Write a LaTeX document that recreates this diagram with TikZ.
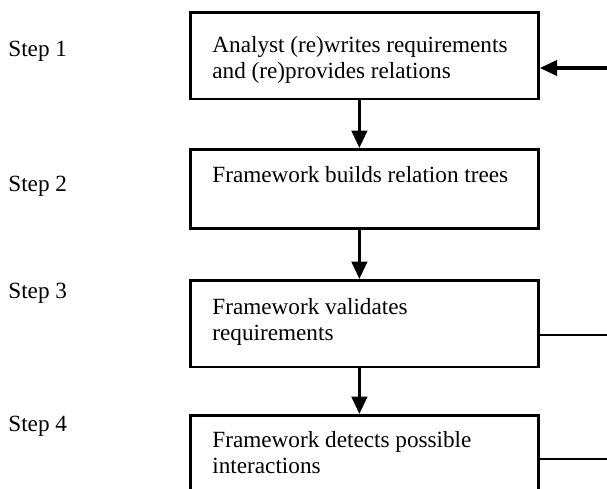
\documentclass[tikz,border=0pt]{standalone}
\usepackage{fontspec}
\setmainfont{Liberation Serif}
\usepackage{tikz}
\usetikzlibrary{positioning}
\usetikzlibrary{arrows.meta}

\tikzset{
  stepbox/.style={draw, line width=1.3pt, anchor=north west, minimum width=6.33cm, inner sep=0pt},
  steptext/.style={anchor=base west, align=left, inner sep=0pt, font=\fontsize{12}{13.4}\selectfont},
  steplabel/.style={anchor=base west, inner sep=0pt, font=\fontsize{12}{13.4}\selectfont},
  arr/.style={line width=1.6pt, -{Triangle[length=9pt,width=8pt]}},
  back/.style={line width=1.2pt}
}

\begin{document}
\begin{tikzpicture}[x=0.01818cm,y=-0.01818cm]
  \useasboundingbox (0,0) rectangle (607,488);
  \clip (0,0) rectangle (607,488);

  % boxes
  \node[stepbox, minimum height=1.58cm] (b1) at (189,11) {};
  \node[stepbox, minimum height=1.44cm] (b2) at (189,148) {};
  \node[stepbox, minimum height=1.58cm] (b3) at (189,279) {};
  \node[stepbox, minimum height=1.9cm] (b4) at (189,414) {};

  % texts (base = last line)
  \node[steptext] (t1) at (212,78) {Analyst (re)writes requirements\\and (re)provides relations};
  \node[steptext] (t2) at (212,182) {Framework builds relation trees};
  \node[steptext] (t3) at (212,340) {Framework validates\\requirements};
  \node[steptext] (t4) at (212,473) {Framework detects possible\\interactions};

  % step labels
  \node[steplabel] (s1) at (8,56) {Step 1};
  \node[steplabel] (s2) at (8,191) {Step 2};
  \node[steplabel] (s3) at (8,298) {Step 3};
  \node[steplabel] (s4) at (8,431) {Step 4};

  % arrows down
  \draw[arr] ([xshift=-2.6pt]b1.south) -- ([xshift=-2.6pt]b2.north);
  \draw[arr] ([xshift=-2.6pt]b2.south) -- ([xshift=-2.6pt]b3.north);
  \draw[arr] ([xshift=-2.6pt]b3.south) -- ([xshift=-2.6pt]b4.north);

  % feedback
  \coordinate (f1) at (607,68);
  \coordinate (f3) at (607,335);
  \coordinate (f4) at (607,459);
  \draw[arr] (f1) -- (f1 -| b1.east);
  \draw[back] (f3 -| b3.east) -- (f3);
  \draw[back] (f4 -| b4.east) -- (f4);
\end{tikzpicture}
\end{document}
